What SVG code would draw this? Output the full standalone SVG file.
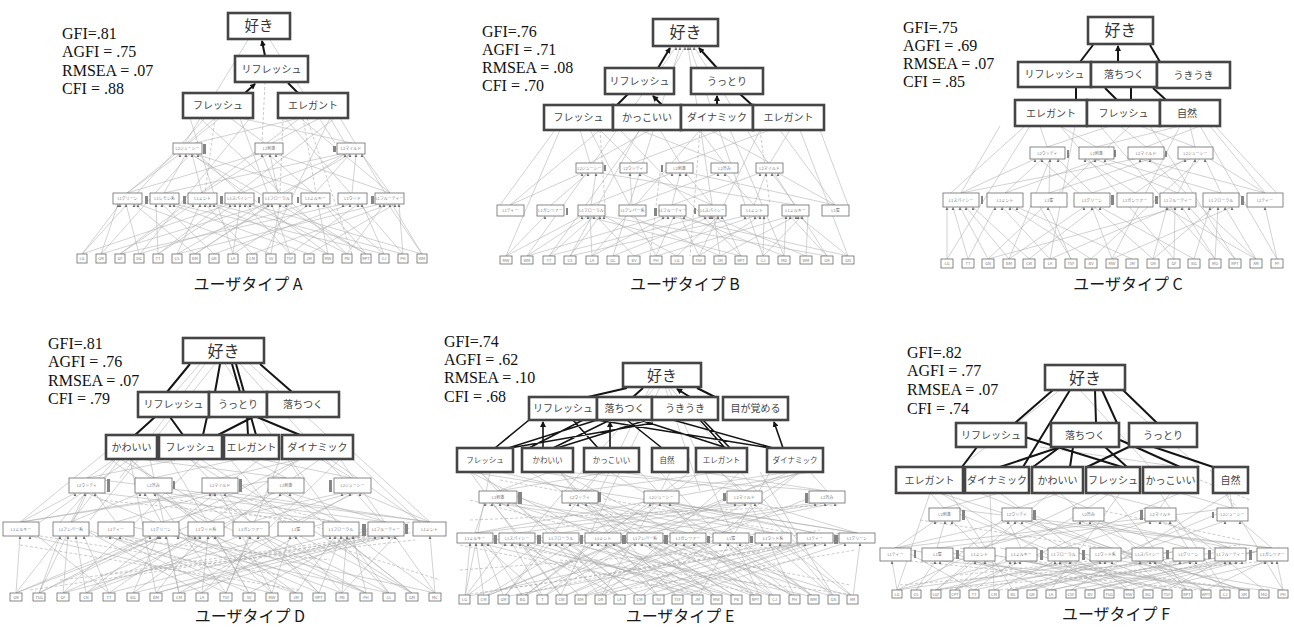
<svg xmlns="http://www.w3.org/2000/svg" width="1294" height="628" viewBox="0 0 1294 628">
<style>
.st{font-family:"Liberation Serif","Times New Roman",serif;font-size:16px;fill:#111}
.bx{fill:#fff;stroke:#454545;stroke-width:2.6}
.bt{font-family:"Noto Sans CJK JP",sans-serif;font-size:10px;fill:#444;text-anchor:middle}
.b7{font-family:"Noto Sans CJK JP",sans-serif;font-size:7.5px;fill:#444;text-anchor:middle}
.kt{font-family:"Noto Sans CJK JP",sans-serif;font-size:16px;fill:#333;text-anchor:middle}
.sb{fill:#fff;stroke:#6a6a6a;stroke-width:0.8}
.s{font-family:"Noto Sans CJK JP",sans-serif;font-size:4px;fill:#777;text-anchor:middle}
.cap{font-family:"Noto Sans CJK JP",sans-serif;font-size:16px;fill:#1a1a1a;text-anchor:middle}
.th{stroke:#151515;stroke-width:2;fill:none}
.tha{stroke:#151515;stroke-width:2;fill:none;marker-end:url(#t)}
.g{stroke:#b4b4b4;stroke-width:0.6;fill:none}
.g2{stroke:#a8a8a8;stroke-width:0.55;fill:none}
.gd{stroke:#aaa;stroke-width:0.6;fill:none;stroke-dasharray:3 2}
.ah{fill:#6e6e6e}
.bar{fill:#858585}
</style>
<defs>
<marker id="t" markerUnits="userSpaceOnUse" markerWidth="6" markerHeight="6" refX="5" refY="3" orient="auto"><path d="M0 0L6 3L0 6z" fill="#151515"/></marker>
</defs>
<rect width="1294" height="628" fill="#fff"/>
<g id="connectors">
<!-- Panel A -->
<path class="g" d="M82 254L120 204M82 254L230 204M101 254L118 204M101 254L268 204M120 254L193 204M120 254L343 204M139 254L126 204M139 254L306 204M158 254L156 204M158 254L235 204M177 254L380 204M177 254L200 204M195 254L134 204M195 254L272 204M214 254L162 204M214 254L350 204M233 254L240 204M233 254L310 204M252 254L205 204M252 254L390 204M271 254L138 204M271 254L280 204M290 254L245 204M290 254L358 204M309 254L170 204M309 254L395 204M328 254L210 204M328 254L318 204M347 254L250 204M347 254L384 204M366 254L286 204M366 254L324 204M384 254L174 204M384 254L362 204M403 254L214 204M403 254L399 204M422 254L250 204M422 254L388 204M127 193L180 154M164 193L186 154M202 193L192 154M240 193L198 154M240 193L345 154M278 193L262 154M315 193L350 154M352 193L356 154M390 193L276 154M164 193L340 154M315 193L196 154M390 193L362 154M202 193L268 154M127 193L258 154M278 193L270 154M187 143L215 118M195 143L300 118M265 143L230 118M272 143L320 118M345 143L330 118M352 143L240 118M82 254L205 118M120 254L300 118M158 254L335 118M233 254L190 118M290 254L240 118M347 254L200 118M403 254L285 118M422 254L340 118M101 254L190 154M177 254L350 154M366 254L190 154M384 254L268 154M195 254L345 154M328 254L192 154M248 40L185 143M270 40L335 143M127 193L220 118M390 193L300 118M265 254L330 118M140 254L250 118"/>
<path class="gd" d="M265 82L262 143M283 118L280 193M303 118L316 193M307 118L352 254M215 118L205 193"/>
<path class="ah" d="M120 204l-1.4 3h2.8zM230 204l-1.4 3h2.8zM118 204l-1.4 3h2.8zM268 204l-1.4 3h2.8zM193 204l-1.4 3h2.8zM343 204l-1.4 3h2.8zM126 204l-1.4 3h2.8zM306 204l-1.4 3h2.8zM156 204l-1.4 3h2.8zM235 204l-1.4 3h2.8zM380 204l-1.4 3h2.8zM200 204l-1.4 3h2.8zM134 204l-1.4 3h2.8zM272 204l-1.4 3h2.8zM162 204l-1.4 3h2.8zM350 204l-1.4 3h2.8zM240 204l-1.4 3h2.8zM310 204l-1.4 3h2.8zM205 204l-1.4 3h2.8zM390 204l-1.4 3h2.8zM138 204l-1.4 3h2.8zM280 204l-1.4 3h2.8zM245 204l-1.4 3h2.8zM358 204l-1.4 3h2.8zM170 204l-1.4 3h2.8zM395 204l-1.4 3h2.8zM210 204l-1.4 3h2.8zM318 204l-1.4 3h2.8zM250 204l-1.4 3h2.8zM384 204l-1.4 3h2.8zM286 204l-1.4 3h2.8zM324 204l-1.4 3h2.8zM174 204l-1.4 3h2.8zM362 204l-1.4 3h2.8zM214 204l-1.4 3h2.8zM399 204l-1.4 3h2.8zM180 154l-1.4 3h2.8zM186 154l-1.4 3h2.8zM192 154l-1.4 3h2.8zM198 154l-1.4 3h2.8zM262 154l-1.4 3h2.8zM270 154l-1.4 3h2.8zM276 154l-1.4 3h2.8zM345 154l-1.4 3h2.8zM350 154l-1.4 3h2.8zM356 154l-1.4 3h2.8zM362 154l-1.4 3h2.8z"/>
<path class="bar" d="M203 144h3v10h-3zM333 146h3v6h-3zM145 196h3v8h-3zM183 196h3v8h-3zM220 196h3v8h-3zM258 197h2v6h-2zM297 197h2v6h-2zM371 196h3v8h-3z"/>
<path class="tha" d="M265 56L262 41"/>
<path class="tha" d="M245 93L255 84"/>
<path class="th" d="M298 93L288 83"/>
<!-- Panel B -->
<path class="g" d="M506 256L545 216M506 256L582 216M527 256L588 216M527 256L663 216M549 256L594 216M549 256L705 216M570 256L600 216M570 256L745 216M592 256L590 216M592 256L668 216M613 256L712 216M634 256L596 216M634 256L755 216M656 256L674 216M656 256L790 216M677 256L604 216M677 256L718 216M699 256L680 216M699 256L760 216M720 256L630 216M720 256L796 216M741 256L722 216M741 256L585 216M763 256L764 216M763 256L802 216M784 256L684 216M784 256L786 216M806 256L808 216M806 256L710 216M827 256L790 216M827 256L604 216M848 256L798 216M848 256L670 216M510 205L582 173M551 205L588 173M591 205L596 173M591 205L672 173M632 205L630 173M632 205L718 173M672 205L680 173M672 205L760 173M712 205L686 173M712 205L640 173M754 205L725 173M754 205L766 173M795 205L772 173M795 205L600 173M835 205L778 173M835 205L690 173M590 163L580 130M590 163L650 130M633 163L600 130M633 163L720 130M680 163L660 130M680 163L770 130M724 163L700 130M724 163L640 130M770 163L790 130M770 163L710 130M506 256L560 130M549 256L640 130M592 256L700 130M656 256L590 130M699 256L760 130M741 256L620 130M784 256L730 130M848 256L800 130M510 205L600 130M835 205L780 130M527 256L676 47M613 256L680 47M763 256L690 47M827 256L694 47M570 256L685 47M720 256L688 47M500 205L555 130M848 205L820 130"/>
<path class="gd" d="M600 130L605 205M700 130L690 256M760 130L770 205M660 173L650 256"/>
<path class="ah" d="M545 216l-1.4 3h2.8zM582 216l-1.4 3h2.8zM588 216l-1.4 3h2.8zM663 216l-1.4 3h2.8zM594 216l-1.4 3h2.8zM705 216l-1.4 3h2.8zM600 216l-1.4 3h2.8zM745 216l-1.4 3h2.8zM668 216l-1.4 3h2.8zM712 216l-1.4 3h2.8zM755 216l-1.4 3h2.8zM674 216l-1.4 3h2.8zM790 216l-1.4 3h2.8zM718 216l-1.4 3h2.8zM760 216l-1.4 3h2.8zM796 216l-1.4 3h2.8zM722 216l-1.4 3h2.8zM764 216l-1.4 3h2.8zM802 216l-1.4 3h2.8zM684 216l-1.4 3h2.8zM786 216l-1.4 3h2.8zM710 216l-1.4 3h2.8zM604 216l-1.4 3h2.8zM798 216l-1.4 3h2.8zM582 173l-1.4 3h2.8zM588 173l-1.4 3h2.8zM596 173l-1.4 3h2.8zM672 173l-1.4 3h2.8zM630 173l-1.4 3h2.8zM718 173l-1.4 3h2.8zM680 173l-1.4 3h2.8zM760 173l-1.4 3h2.8zM686 173l-1.4 3h2.8zM640 173l-1.4 3h2.8zM725 173l-1.4 3h2.8zM766 173l-1.4 3h2.8zM772 173l-1.4 3h2.8zM778 173l-1.4 3h2.8zM676 47l-1.4 3h2.8zM680 47l-1.4 3h2.8zM685 47l-1.4 3h2.8zM688 47l-1.4 3h2.8zM690 47l-1.4 3h2.8zM694 47l-1.4 3h2.8z"/>
<path class="bar" d="M604 165h2v6h-2zM661 165h2v7h-2zM566 208h2v7h-2zM654 208h3v8h-3zM694 208h2v6h-2z"/>
<path class="tha" d="M658 68L670 48"/>
<path class="tha" d="M717 68L699 48"/>
<path class="th" d="M617 105L628 94"/>
<path class="tha" d="M662 105L653 96"/>
<path class="tha" d="M717 105L717 96"/>
<path class="th" d="M752 105L740 94"/>
<!-- Panel C -->
<path class="g" d="M947 259L947 207M968 259L953 207M988 259L960 207M1009 259L966 207M1029 259L973 207M968 259L995 207M1050 259L1002 207M1091 259L1010 207M1132 259L1017 207M1071 259L1048 207M1009 259L1084 207M1112 259L1092 207M1194 259L1100 207M1153 259L1167 207M1174 259L1175 207M1215 259L1182 207M1235 259L1189 207M1050 259L1172 207M1194 259L1210 207M1215 259L1218 207M1256 259L1225 207M1112 259L1232 207M1277 259L1265 207M988 259L1180 207M1153 259L1214 207M1029 259L1096 207M1256 259L1164 207M1071 259L1040 207M961 193L1035 159M1005 193L1042 159M1049 193L1050 159M1092 193L1058 159M1135 193L1085 159M1178 193L1095 159M1221 193L1105 159M1265 193L1140 159M961 193L1135 159M1049 193L1150 159M1135 193L1185 159M1178 193L1195 159M1221 193L1205 159M1092 193L1190 159M1005 193L1100 159M1265 193L1210 159M1047 147L1040 126M1047 147L1110 126M1096 147L1060 126M1096 147L1180 126M1146 147L1120 126M1146 147L1200 126M1195 147L1140 126M1195 147L1190 126M947 259L1030 126M988 259L1130 126M1050 259L1075 126M1112 259L1180 126M1174 259L1060 126M1235 259L1150 126M1277 259L1200 126M1009 259L1050 159M1091 259L1200 159M1153 259L1040 159M1256 259L1150 159M961 193L1000 126M1265 193L1210 126M1215 259L1100 126M943 200L1025 126M1283 200L1215 126"/>
<path class="ah" d="M947 207l-1.4 3h2.8zM953 207l-1.4 3h2.8zM960 207l-1.4 3h2.8zM966 207l-1.4 3h2.8zM973 207l-1.4 3h2.8zM995 207l-1.4 3h2.8zM1002 207l-1.4 3h2.8zM1010 207l-1.4 3h2.8zM1017 207l-1.4 3h2.8zM1048 207l-1.4 3h2.8zM1084 207l-1.4 3h2.8zM1092 207l-1.4 3h2.8zM1100 207l-1.4 3h2.8zM1167 207l-1.4 3h2.8zM1175 207l-1.4 3h2.8zM1182 207l-1.4 3h2.8zM1189 207l-1.4 3h2.8zM1210 207l-1.4 3h2.8zM1218 207l-1.4 3h2.8zM1225 207l-1.4 3h2.8zM1232 207l-1.4 3h2.8zM1265 207l-1.4 3h2.8zM1035 159l-1.4 3h2.8zM1042 159l-1.4 3h2.8zM1050 159l-1.4 3h2.8zM1058 159l-1.4 3h2.8zM1085 159l-1.4 3h2.8zM1095 159l-1.4 3h2.8zM1105 159l-1.4 3h2.8zM1140 159l-1.4 3h2.8zM1150 159l-1.4 3h2.8zM1185 159l-1.4 3h2.8zM1195 159l-1.4 3h2.8zM1205 159l-1.4 3h2.8z"/>
<path class="bar" d="M1067 150h2v8h-2zM1114 150h2v7h-2zM1165 151h2v6h-2zM981 196h2v8h-2zM1111 195h3v10h-3zM1155 196h3v8h-3zM1241 196h3v9h-3z"/>
<path class="th" d="M1080 62L1093 45"/>
<path class="tha" d="M1118 62L1118 46"/>
<path class="th" d="M1160 62L1150 45"/>
<path class="th" d="M1076 100L1076 88M1117 100L1105 88M1131 100L1131 88M1166 100L1153 88"/>
<!-- Panel D -->
<path class="g" d="M16 593L20 536M39 593L60 536M63 593L68 536M86 593L76 536M109 593L84 536M16 593L150 536M39 593L160 536M63 593L195 536M86 593L240 536M109 593L330 536M133 593L158 536M156 593L200 536M179 593L166 536M202 593L208 536M226 593L250 536M249 593L215 536M272 593L290 536M296 593L335 536M319 593L341 536M342 593L347 536M366 593L353 536M389 593L335 536M412 593L340 536M435 593L430 536M133 593L375 536M156 593L382 536M179 593L389 536M202 593L296 536M226 593L110 536M249 593L120 536M272 593L30 536M296 593L178 536M319 593L258 536M342 593L395 536M366 593L212 536M389 593L125 536M412 593L300 536M435 593L355 536M21 522L75 493M71 522L85 493M116 522L95 493M161 522L145 493M206 522L155 493M251 522L210 493M296 522L225 493M341 522L280 493M386 522L290 493M430 522L360 493M71 522L140 493M116 522L215 493M161 522L275 493M206 522L342 493M251 522L350 493M296 522L355 493M341 522L100 493M386 522L165 493M430 522L232 493M21 522L208 493M87 478L115 459M87 478L180 459M153 478L130 459M153 478L240 459M220 478L190 459M220 478L300 459M286 478L250 459M286 478L140 459M352 478L320 459M352 478L260 459M16 593L120 459M63 593L200 459M109 593L300 459M156 593L130 459M202 593L340 459M249 593L170 459M296 593L110 459M342 593L230 459M389 593L290 459M435 593L340 459M39 593L87 493M86 593L286 493M179 593L352 493M226 593L153 493M272 593L220 493M319 593L87 493M366 593L153 493M412 593L286 493M106 452L20 522M353 452L430 522M40 522L130 459M420 522L330 459M205 364L120 478M215 364L90 520M225 364L300 478M240 364L380 520M200 364L60 522M250 364L420 522"/>
<path class="g2" d="M16 593L200 522M63 593L330 522M109 593L20 522M156 593L410 522M202 593L70 522M249 593L380 522M296 593L60 522M342 593L150 522M389 593L240 522M435 593L110 522M39 593L300 459M86 593L260 459M133 593L320 459M179 593L150 459M226 593L280 459M272 593L130 459M319 593L190 459M366 593L120 459M412 593L200 459M21 522L286 478M430 522L87 478"/>
<path class="gd" d="M30 590L400 536M60 580L415 540M100 575L370 536M150 570L430 530M200 568L410 528M90 536L330 560M40 536L280 575M180 500L360 536M250 500L400 540M100 500L300 520M20 545L300 590M330 545L440 580"/>
<path class="ah" d="M20 536l-1.4 3h2.8zM60 536l-1.4 3h2.8zM68 536l-1.4 3h2.8zM76 536l-1.4 3h2.8zM84 536l-1.4 3h2.8zM150 536l-1.4 3h2.8zM160 536l-1.4 3h2.8zM195 536l-1.4 3h2.8zM240 536l-1.4 3h2.8zM330 536l-1.4 3h2.8zM158 536l-1.4 3h2.8zM200 536l-1.4 3h2.8zM166 536l-1.4 3h2.8zM208 536l-1.4 3h2.8zM250 536l-1.4 3h2.8zM215 536l-1.4 3h2.8zM290 536l-1.4 3h2.8zM335 536l-1.4 3h2.8zM341 536l-1.4 3h2.8zM347 536l-1.4 3h2.8zM353 536l-1.4 3h2.8zM430 536l-1.4 3h2.8zM375 536l-1.4 3h2.8zM382 536l-1.4 3h2.8zM389 536l-1.4 3h2.8zM296 536l-1.4 3h2.8zM110 536l-1.4 3h2.8zM120 536l-1.4 3h2.8zM30 536l-1.4 3h2.8zM178 536l-1.4 3h2.8zM258 536l-1.4 3h2.8zM395 536l-1.4 3h2.8zM75 493l-1.4 3h2.8zM85 493l-1.4 3h2.8zM95 493l-1.4 3h2.8zM145 493l-1.4 3h2.8zM155 493l-1.4 3h2.8zM210 493l-1.4 3h2.8zM225 493l-1.4 3h2.8zM280 493l-1.4 3h2.8zM290 493l-1.4 3h2.8zM360 493l-1.4 3h2.8zM140 493l-1.4 3h2.8zM215 493l-1.4 3h2.8zM342 493l-1.4 3h2.8zM350 493l-1.4 3h2.8z"/>
<path class="bar" d="M107 479h3v13h-3zM173 481h2v8h-2zM239 479h3v13h-3zM329 480h3v12h-3zM362 524h4v12h-4zM405 524h3v10h-3z"/>
<path class="th" d="M190 364L167 392M220 364L215 392M232 364L240 392M236 364L244 392M260 364L292 392M155 417L135 435M170 417L183 435M207 417L203 435M253 417L218 435M247 417L248 435M251 417L256 435M257 417L300 435"/>
<!-- Panel E -->
<path class="g" d="M465 597L470 543M484 597L476 543M504 597L482 543M523 597L488 543M465 597L505 543M543 597L512 543M562 597L520 543M581 597L528 543M504 597L550 543M601 597L556 543M620 597L562 543M640 597L570 543M523 597L592 543M659 597L598 543M678 597L606 543M698 597L614 543M543 597L635 543M717 597L642 543M737 597L650 543M562 597L676 543M756 597L684 543M775 597L694 543M581 597L720 543M795 597L728 543M814 597L740 543M601 597L762 543M834 597L770 543M853 597L780 543M620 597L805 543M640 597L815 543M659 597L825 543M678 597L845 543M853 597L860 543M698 597L480 543M717 597L530 543M737 597L575 543M756 597L610 543M775 597L655 543M795 597L700 543M814 597L745 543M834 597L788 543M484 597L620 543M465 597L540 543M475 533L485 503M517 533L492 503M561 533L500 503M603 533L508 503M645 533L570 503M688 533L578 503M731 533L586 503M773 533L650 503M815 533L660 503M857 533L670 503M475 533L735 503M517 533L745 503M561 533L755 503M603 533L815 503M645 533L825 503M688 533L835 503M731 533L512 503M773 533L592 503M815 533L676 503M857 533L758 503M603 533L655 503M688 533L495 503M498 491L480 472M498 491L550 472M498 491L610 472M580 491L500 472M580 491L600 472M580 491L720 472M661 491L540 472M661 491L670 472M661 491L790 472M744 491L620 472M744 491L720 472M744 491L800 472M827 491L700 472M827 491L810 472M827 491L560 472M465 597L490 472M504 597L600 472M543 597L700 472M581 597L800 472M620 597L480 472M659 597L560 472M698 597L770 472M737 597L530 472M775 597L660 472M814 597L610 472M853 597L720 472M484 597L661 491M562 597L827 491M640 597L498 491M717 597L580 491M795 597L744 491M834 597L498 491M523 597L744 491M601 597L661 491M756 597L580 491M600 491L650 387M700 491L665 387M520 543L655 387M800 543L670 387M560 597L660 387M760 597L668 387"/>
<path class="g2" d="M465 597L760 533M504 597L850 533M543 597L470 533M581 597L840 533M620 597L500 533M659 597L830 533M698 597L520 533M737 597L470 533M775 597L560 533M814 597L520 533M853 597L640 533M484 597L790 472M523 597L690 472M562 597L470 472M601 597L740 472M640 597L800 472M678 597L560 472M717 597L470 472M756 597L640 472M795 597L560 472M834 597L760 472M475 533L810 472M857 533L470 472"/>
<path class="gd" d="M470 594L840 540M500 590L860 535M460 570L800 545M520 594L820 530M560 560L850 594M480 540L760 594M600 594L855 550M460 545L700 594M640 545L850 585M470 520L840 505M500 480L830 540M470 500L700 560"/>
<path class="ah" d="M470 543l-1.4 3h2.8zM476 543l-1.4 3h2.8zM482 543l-1.4 3h2.8zM488 543l-1.4 3h2.8zM505 543l-1.4 3h2.8zM512 543l-1.4 3h2.8zM520 543l-1.4 3h2.8zM528 543l-1.4 3h2.8zM550 543l-1.4 3h2.8zM556 543l-1.4 3h2.8zM562 543l-1.4 3h2.8zM570 543l-1.4 3h2.8zM592 543l-1.4 3h2.8zM598 543l-1.4 3h2.8zM606 543l-1.4 3h2.8zM614 543l-1.4 3h2.8zM635 543l-1.4 3h2.8zM642 543l-1.4 3h2.8zM650 543l-1.4 3h2.8zM676 543l-1.4 3h2.8zM684 543l-1.4 3h2.8zM694 543l-1.4 3h2.8zM720 543l-1.4 3h2.8zM728 543l-1.4 3h2.8zM740 543l-1.4 3h2.8zM762 543l-1.4 3h2.8zM770 543l-1.4 3h2.8zM780 543l-1.4 3h2.8zM805 543l-1.4 3h2.8zM815 543l-1.4 3h2.8zM825 543l-1.4 3h2.8zM845 543l-1.4 3h2.8zM860 543l-1.4 3h2.8zM485 503l-1.4 3h2.8zM492 503l-1.4 3h2.8zM500 503l-1.4 3h2.8zM508 503l-1.4 3h2.8zM570 503l-1.4 3h2.8zM578 503l-1.4 3h2.8zM586 503l-1.4 3h2.8zM650 503l-1.4 3h2.8zM660 503l-1.4 3h2.8zM670 503l-1.4 3h2.8zM735 503l-1.4 3h2.8zM745 503l-1.4 3h2.8zM755 503l-1.4 3h2.8zM815 503l-1.4 3h2.8zM825 503l-1.4 3h2.8zM835 503l-1.4 3h2.8z"/>
<path class="bar" d="M518 492h4v12h-4zM598 492h3v10h-3zM723 493h3v8h-3zM805 493h3v10h-3zM494 535h3v9h-3zM537 535h4v9h-4zM580 535h3v9h-3zM622 535h4v9h-4zM664 535h4v9h-4zM707 536h3v7h-3zM750 536h3v7h-3zM834 535h4v9h-4z"/>
<path class="th" d="M588 397L627 388M633 397L643 388M715 397L697 388"/>
<path class="tha" d="M690 397L677 389"/>
<path class="th" style="stroke-width:1.6" d="M495 448L529 420M508 448L597 420M529 448L583 420M553 448L610 420M573 420L598 448M627 420L662 448M640 420L727 448M700 420L725 448M703 420L730 448M673 420L773 448M653 423L510 448M647 420L557 448M597 420L770 448"/>
<path class="tha" style="stroke-width:1.6" d="M543 448L543 422"/>
<path class="tha" style="stroke-width:1.6" d="M610 448L610 422"/>
<path class="tha" style="stroke-width:1.6" d="M783 448L774 422"/>
<!-- Panel F -->
<path class="g" d="M897 590L892 561M916 590L935 561M936 590L975 561M955 590L985 561M974 590L1015 561M994 590L1055 561M1013 590L1100 561M1032 590L1140 561M1051 590L1180 561M1071 590L1225 561M1090 590L1230 561M1109 590L1236 561M1129 590L1242 561M1148 590L1272 561M1167 590L1060 561M1187 590L1105 561M1206 590L1150 561M1225 590L1190 561M1244 590L1020 561M1264 590L940 561M1283 590L1277 561M897 590L1010 561M936 590L1070 561M974 590L1112 561M1013 590L1155 561M1051 590L1196 561M1090 590L985 561M1129 590L1030 561M1167 590L1220 561M1206 590L1265 561M895 548L935 521M937 548L945 521M979 548L952 521M1021 548L1008 521M1063 548L1015 521M1105 548L1022 521M1147 548L1080 521M1188 548L1090 521M1230 548L1160 521M1272 548L1240 521M895 548L1010 521M979 548L1085 521M1063 548L1150 521M1147 548L1225 521M1188 548L1170 521M1230 548L1098 521M1272 548L1025 521M937 548L1155 521M944 508L930 493M944 508L1000 493M1017 508L980 493M1017 508L1060 493M1088 508L1050 493M1088 508L1110 493M1160 508L1100 493M1160 508L1170 493M1232 508L1180 493M1232 508L1230 493M897 590L930 493M936 590L1050 493M994 590L990 493M1051 590L1120 493M1109 590L940 493M1167 590L1060 493M1225 590L1160 493M1283 590L1225 493M955 590L1088 508M1032 590L1232 508M1148 590L944 508M1206 590L1017 508M1264 590L1160 508M916 590L1017 508M1187 590L1088 508M1060 390L960 467M1110 390L1200 467M1080 390L1150 467M1040 447L1180 467"/>
<path class="g2" d="M897 590L1200 548M936 590L1250 548M974 590L900 548M1013 590L1280 548M1051 590L940 548M1090 590L1270 548M1129 590L900 548M1167 590L960 548M1206 590L1000 548M1244 590L1110 548M1283 590L1050 548M897 590L1100 493M955 590L1180 493M1013 590L950 493M1071 590L1230 493M1129 590L1000 493M1187 590L1110 493M1244 590L940 493M895 548L1232 508M1272 548L944 508"/>
<path class="gd" d="M900 585L1250 555M930 590L1280 560M960 575L1240 545M1000 590L1270 550M900 560L1200 590M950 550L1250 590M1100 510L1240 540M920 520L1180 560M1210 470L1245 520M1200 480L1250 500"/>
<path class="ah" d="M892 561l-1.4 3h2.8zM935 561l-1.4 3h2.8zM975 561l-1.4 3h2.8zM985 561l-1.4 3h2.8zM1015 561l-1.4 3h2.8zM1055 561l-1.4 3h2.8zM1100 561l-1.4 3h2.8zM1140 561l-1.4 3h2.8zM1180 561l-1.4 3h2.8zM1225 561l-1.4 3h2.8zM1230 561l-1.4 3h2.8zM1236 561l-1.4 3h2.8zM1242 561l-1.4 3h2.8zM1272 561l-1.4 3h2.8zM1060 561l-1.4 3h2.8zM1105 561l-1.4 3h2.8zM1150 561l-1.4 3h2.8zM1190 561l-1.4 3h2.8zM1020 561l-1.4 3h2.8zM940 561l-1.4 3h2.8zM1277 561l-1.4 3h2.8zM1010 561l-1.4 3h2.8zM1070 561l-1.4 3h2.8zM1112 561l-1.4 3h2.8zM1155 561l-1.4 3h2.8zM1196 561l-1.4 3h2.8zM1265 561l-1.4 3h2.8zM935 521l-1.4 3h2.8zM945 521l-1.4 3h2.8zM952 521l-1.4 3h2.8zM1008 521l-1.4 3h2.8zM1015 521l-1.4 3h2.8zM1022 521l-1.4 3h2.8zM1080 521l-1.4 3h2.8zM1090 521l-1.4 3h2.8zM1160 521l-1.4 3h2.8zM1240 521l-1.4 3h2.8zM1150 521l-1.4 3h2.8zM1225 521l-1.4 3h2.8zM1170 521l-1.4 3h2.8z"/>
<path class="bar" d="M962 510h3v10h-3zM1033 510h3v10h-3zM1140 510h3v10h-3zM1212 512h2v6h-2zM914 550h2v8h-2zM956 550h3v9h-3zM1040 550h3v10h-3zM1082 550h3v10h-3zM1166 550h3v9h-3zM1208 550h3v9h-3zM1249 550h3v10h-3z"/>
<path class="th" d="M1053 390L1015 423M1095 390L1096 423M1102 390L1117 423M1123 390L1157 423M1070 390L1023 467M977 447L962 467M1025 437L1122 467M1060 447L1033 467M1073 447L1070 467M1105 447L1127 467M1137 443L1087 467M1133 440L1213 467M1120 440L1180 467M1060 447L1000 467"/>
</g>
<g id="stats">
<text class="st" x="62" y="39">GFI=.81</text><text class="st" x="62" y="57">AGFI = .75</text><text class="st" x="62" y="76">RMSEA = .07</text><text class="st" x="62" y="94">CFI = .88</text>
<text class="st" x="482" y="37">GFI=.76</text><text class="st" x="482" y="55">AGFI = .71</text><text class="st" x="482" y="73">RMSEA = .08</text><text class="st" x="482" y="91">CFI = .70</text>
<text class="st" x="903" y="33">GFI=.75</text><text class="st" x="903" y="51">AGFI = .69</text><text class="st" x="903" y="69">RMSEA = .07</text><text class="st" x="903" y="87">CFI = .85</text>
<text class="st" x="48" y="349">GFI=.81</text><text class="st" x="48" y="367">AGFI = .76</text><text class="st" x="48" y="386">RMSEA = .07</text><text class="st" x="48" y="404">CFI = .79</text>
<text class="st" x="444" y="347">GFI=.74</text><text class="st" x="444" y="365">AGFI = .62</text><text class="st" x="444" y="383">RMSEA = .10</text><text class="st" x="444" y="402">CFI = .68</text>
<text class="st" x="907" y="358">GFI=.82</text><text class="st" x="907" y="376">AGFI = .77</text><text class="st" x="907" y="395">RMSEA = .07</text><text class="st" x="907" y="414">CFI = .74</text>
</g>
<g id="captions">
<text class="cap" x="248" y="290">ユーザタイプ A</text>
<text class="cap" x="685" y="290">ユーザタイプ B</text>
<text class="cap" x="1128" y="290">ユーザタイプ C</text>
<text class="cap" x="250" y="622">ユーザタイプ D</text>
<text class="cap" x="680" y="622">ユーザタイプ E</text>
<text class="cap" x="1116" y="620">ユーザタイプ F</text>
</g>
<!-- Panel A nodes -->
<g id="A-suki"><rect class="bx" x="228" y="13" width="62" height="26"/><text class="kt" style="font-size:14.5px" x="259" y="31">好き</text></g>
<g id="A-refresh"><rect class="bx" x="235" y="56" width="73" height="26"/><text class="bt" x="271.5" y="72.5">リフレッシュ</text></g>
<g id="A-fresh"><rect class="bx" x="183" y="93" width="70" height="25"/><text class="bt" x="218" y="109">フレッシュ</text></g>
<g id="A-elegant"><rect class="bx" x="278" y="93" width="70" height="25"/><text class="bt" x="313" y="109">エレガント</text></g>
<g id="A-m0"><rect class="sb" x="173" y="143" width="29" height="11"/><text class="s" x="187.5" y="150">L2ジューシー</text></g>
<g id="A-m1"><rect class="sb" x="255" y="143" width="28" height="11"/><text class="s" x="269" y="150">L2刺激</text></g>
<g id="A-m2"><rect class="sb" x="337" y="143" width="28" height="11"/><text class="s" x="351" y="150">L2マイルド</text></g>
<g id="A-l0"><rect class="sb" x="113" y="193" width="29" height="11"/><text class="s" x="127.5" y="200">L1グリーン</text></g>
<g id="A-l1"><rect class="sb" x="150" y="193" width="29" height="11"/><text class="s" x="164.5" y="200">L1レモン系</text></g>
<g id="A-l2"><rect class="sb" x="188" y="193" width="29" height="11"/><text class="s" x="202.5" y="200">L1ミント</text></g>
<g id="A-l3"><rect class="sb" x="225" y="193" width="29" height="11"/><text class="s" x="239.5" y="200">L1スパイシー</text></g>
<g id="A-l4"><rect class="sb" x="263" y="193" width="29" height="11"/><text class="s" x="277.5" y="200">L1フローラル</text></g>
<g id="A-l5"><rect class="sb" x="301" y="193" width="29" height="11"/><text class="s" x="315.5" y="200">L1ミルキー</text></g>
<g id="A-l6"><rect class="sb" x="338" y="193" width="29" height="11"/><text class="s" x="352.5" y="200">L1ウッド</text></g>
<g id="A-l7"><rect class="sb" x="375" y="193" width="29" height="11"/><text class="s" x="389.5" y="200">L1フルーティー</text></g>
<g id="A-b0"><rect class="sb" x="77" y="254" width="10" height="9"/><text class="s" x="82" y="260">LG</text></g>
<g id="A-b1"><rect class="sb" x="96" y="254" width="10" height="9"/><text class="s" x="101" y="260">OR</text></g>
<g id="A-b2"><rect class="sb" x="115" y="254" width="10" height="9"/><text class="s" x="120" y="260">GF</text></g>
<g id="A-b3"><rect class="sb" x="134" y="254" width="10" height="9"/><text class="s" x="139" y="260">DG</text></g>
<g id="A-b4"><rect class="sb" x="153" y="254" width="10" height="9"/><text class="s" x="158" y="260">TT</text></g>
<g id="A-b5"><rect class="sb" x="172" y="254" width="10" height="9"/><text class="s" x="177" y="260">CS</text></g>
<g id="A-b6"><rect class="sb" x="190" y="254" width="10" height="9"/><text class="s" x="195" y="260">BM</text></g>
<g id="A-b7"><rect class="sb" x="209" y="254" width="10" height="9"/><text class="s" x="214" y="260">GR</text></g>
<g id="A-b8"><rect class="sb" x="228" y="254" width="10" height="9"/><text class="s" x="233" y="260">LA</text></g>
<g id="A-b9"><rect class="sb" x="247" y="254" width="10" height="9"/><text class="s" x="252" y="260">CM</text></g>
<g id="A-b10"><rect class="sb" x="266" y="254" width="10" height="9"/><text class="s" x="271" y="260">SV</text></g>
<g id="A-b11"><rect class="sb" x="285" y="254" width="10" height="9"/><text class="s" x="290" y="260">TSF</text></g>
<g id="A-b12"><rect class="sb" x="304" y="254" width="10" height="9"/><text class="s" x="309" y="260">JM</text></g>
<g id="A-b13"><rect class="sb" x="323" y="254" width="10" height="9"/><text class="s" x="328" y="260">MW</text></g>
<g id="A-b14"><rect class="sb" x="342" y="254" width="10" height="9"/><text class="s" x="347" y="260">PB</text></g>
<g id="A-b15"><rect class="sb" x="361" y="254" width="10" height="9"/><text class="s" x="366" y="260">RPT</text></g>
<g id="A-b16"><rect class="sb" x="379" y="254" width="10" height="9"/><text class="s" x="384" y="260">CJ</text></g>
<g id="A-b17"><rect class="sb" x="398" y="254" width="10" height="9"/><text class="s" x="403" y="260">PH</text></g>
<g id="A-b18"><rect class="sb" x="417" y="254" width="10" height="9"/><text class="s" x="422" y="260">WM</text></g>
<!-- Panel B nodes -->
<g id="B-suki"><rect class="bx" x="653" y="19" width="65" height="27"/><text class="kt" x="685.5" y="38">好き</text></g>
<g id="B-refresh"><rect class="bx" x="605" y="68" width="69" height="26"/><text class="bt" x="639.5" y="84.5">リフレッシュ</text></g>
<g id="B-uttori"><rect class="bx" x="691" y="68" width="72" height="26"/><text class="bt" x="727" y="84.5">うっとり</text></g>
<g id="B-fresh"><rect class="bx" x="544" y="105" width="69" height="25"/><text class="bt" x="578.5" y="121">フレッシュ</text></g>
<g id="B-cool"><rect class="bx" x="613" y="105" width="68" height="25"/><text class="bt" x="647" y="121">かっこいい</text></g>
<g id="B-dynamic"><rect class="bx" x="681" y="105" width="72" height="25"/><text class="bt" x="717" y="121">ダイナミック</text></g>
<g id="B-elegant"><rect class="bx" x="753" y="105" width="71" height="25"/><text class="bt" x="788.5" y="121">エレガント</text></g>
<g id="B-m0"><rect class="sb" x="576" y="163" width="27" height="10"/><text class="s" x="589.5" y="169.5">L2ジューシー</text></g>
<g id="B-m1"><rect class="sb" x="620" y="163" width="27" height="10"/><text class="s" x="633.5" y="169.5">L2ウッディ</text></g>
<g id="B-m2"><rect class="sb" x="666" y="163" width="27" height="10"/><text class="s" x="679.5" y="169.5">L2刺激</text></g>
<g id="B-m3"><rect class="sb" x="711" y="163" width="27" height="10"/><text class="s" x="724.5" y="169.5">L2渋み</text></g>
<g id="B-m4"><rect class="sb" x="756" y="163" width="27" height="10"/><text class="s" x="769.5" y="169.5">L2マイルド</text></g>
<g id="B-l0"><rect class="sb" x="497" y="205" width="27" height="11"/><text class="s" x="510.5" y="212">L1ティー</text></g>
<g id="B-l1"><rect class="sb" x="537" y="205" width="27" height="11"/><text class="s" x="550.5" y="212">L1ガンツァー</text></g>
<g id="B-l2"><rect class="sb" x="578" y="205" width="27" height="11"/><text class="s" x="591.5" y="212">L1フローラル</text></g>
<g id="B-l3"><rect class="sb" x="619" y="205" width="27" height="11"/><text class="s" x="632.5" y="212">L1アンバー系</text></g>
<g id="B-l4"><rect class="sb" x="659" y="205" width="27" height="11"/><text class="s" x="672.5" y="212">L1フルーティー</text></g>
<g id="B-l5"><rect class="sb" x="699" y="205" width="27" height="11"/><text class="s" x="712.5" y="212">L1スパイシー</text></g>
<g id="B-l6"><rect class="sb" x="741" y="205" width="27" height="11"/><text class="s" x="754.5" y="212">L1ミント</text></g>
<g id="B-l7"><rect class="sb" x="782" y="205" width="27" height="11"/><text class="s" x="795.5" y="212">L1ミルキー</text></g>
<g id="B-l8"><rect class="sb" x="822" y="205" width="27" height="11"/><text class="s" x="835.5" y="212">L1蜜</text></g>
<g id="B-b0"><rect class="sb" x="500" y="256" width="12" height="8"/><text class="s" x="506" y="261.5">MW</text></g>
<g id="B-b1"><rect class="sb" x="521" y="256" width="12" height="8"/><text class="s" x="527" y="261.5">WM</text></g>
<g id="B-b2"><rect class="sb" x="543" y="256" width="12" height="8"/><text class="s" x="549" y="261.5">TT</text></g>
<g id="B-b3"><rect class="sb" x="564" y="256" width="12" height="8"/><text class="s" x="570" y="261.5">CS</text></g>
<g id="B-b4"><rect class="sb" x="586" y="256" width="12" height="8"/><text class="s" x="592" y="261.5">LA</text></g>
<g id="B-b5"><rect class="sb" x="607" y="256" width="12" height="8"/><text class="s" x="613" y="261.5">GC</text></g>
<g id="B-b6"><rect class="sb" x="628" y="256" width="12" height="8"/><text class="s" x="634" y="261.5">BV</text></g>
<g id="B-b7"><rect class="sb" x="650" y="256" width="12" height="8"/><text class="s" x="656" y="261.5">PH</text></g>
<g id="B-b8"><rect class="sb" x="671" y="256" width="12" height="8"/><text class="s" x="677" y="261.5">LG</text></g>
<g id="B-b9"><rect class="sb" x="693" y="256" width="12" height="8"/><text class="s" x="699" y="261.5">TSF</text></g>
<g id="B-b10"><rect class="sb" x="714" y="256" width="12" height="8"/><text class="s" x="720" y="261.5">JM</text></g>
<g id="B-b11"><rect class="sb" x="735" y="256" width="12" height="8"/><text class="s" x="741" y="261.5">RPT</text></g>
<g id="B-b12"><rect class="sb" x="757" y="256" width="12" height="8"/><text class="s" x="763" y="261.5">CJ</text></g>
<g id="B-b13"><rect class="sb" x="778" y="256" width="12" height="8"/><text class="s" x="784" y="261.5">MD</text></g>
<g id="B-b14"><rect class="sb" x="800" y="256" width="12" height="8"/><text class="s" x="806" y="261.5">WM</text></g>
<g id="B-b15"><rect class="sb" x="821" y="256" width="12" height="8"/><text class="s" x="827" y="261.5">OR</text></g>
<g id="B-b16"><rect class="sb" x="842" y="256" width="12" height="8"/><text class="s" x="848" y="261.5">GN</text></g>
<!-- Panel C nodes -->
<g id="C-suki"><rect class="bx" x="1088" y="17" width="65" height="27"/><text class="kt" x="1120.5" y="36">好き</text></g>
<g id="C-refresh"><rect class="bx" x="1018" y="62" width="73" height="25"/><text class="bt" x="1054.5" y="78">リフレッシュ</text></g>
<g id="C-calm"><rect class="bx" x="1091" y="62" width="66" height="25"/><text class="bt" x="1124" y="78">落ちつく</text></g>
<g id="C-ukiuki"><rect class="bx" x="1157" y="62" width="73" height="26"/><text class="bt" x="1193.5" y="78.5">うきうき</text></g>
<g id="C-elegant"><rect class="bx" x="1015" y="100" width="72" height="26"/><text class="bt" x="1051" y="116.5">エレガント</text></g>
<g id="C-fresh"><rect class="bx" x="1087" y="100" width="73" height="26"/><text class="bt" x="1123.5" y="116.5">フレッシュ</text></g>
<g id="C-natural"><rect class="bx" x="1160" y="100" width="60" height="26"/><text class="bt" x="1187" y="116.5">自然</text></g>
<g id="C-m0"><rect class="sb" x="1030" y="147" width="35" height="12"/><text class="s" x="1047.5" y="154.5">L2ウッディ</text></g>
<g id="C-m1"><rect class="sb" x="1079" y="147" width="35" height="12"/><text class="s" x="1096.5" y="154.5">L2刺激</text></g>
<g id="C-m2"><rect class="sb" x="1128" y="147" width="36" height="12"/><text class="s" x="1146" y="154.5">L2マイルド</text></g>
<g id="C-m3"><rect class="sb" x="1178" y="147" width="35" height="12"/><text class="s" x="1195.5" y="154.5">L2ジューシー</text></g>
<g id="C-l0"><rect class="sb" x="943" y="193" width="36" height="14"/><text class="s" x="961" y="201.5">L1スパイシー</text></g>
<g id="C-l1"><rect class="sb" x="987" y="193" width="36" height="14"/><text class="s" x="1005" y="201.5">L1ミント</text></g>
<g id="C-l2"><rect class="sb" x="1031" y="193" width="36" height="14"/><text class="s" x="1049" y="201.5">L1蜜</text></g>
<g id="C-l3"><rect class="sb" x="1074" y="193" width="36" height="14"/><text class="s" x="1092" y="201.5">L1グリーン</text></g>
<g id="C-l4"><rect class="sb" x="1117" y="193" width="36" height="14"/><text class="s" x="1135" y="201.5">L1ガンツァー</text></g>
<g id="C-l5"><rect class="sb" x="1160" y="193" width="36" height="14"/><text class="s" x="1178" y="201.5">L1フルーティー</text></g>
<g id="C-l6"><rect class="sb" x="1203" y="193" width="36" height="14"/><text class="s" x="1221" y="201.5">L1フローラル</text></g>
<g id="C-l7"><rect class="sb" x="1247" y="193" width="36" height="14"/><text class="s" x="1265" y="201.5">L1ティー</text></g>
<g id="C-b0"><rect class="sb" x="941" y="259" width="12" height="9"/><text class="s" x="947" y="265">LG</text></g>
<g id="C-b1"><rect class="sb" x="962" y="259" width="12" height="9"/><text class="s" x="968" y="265">TT</text></g>
<g id="C-b2"><rect class="sb" x="982" y="259" width="12" height="9"/><text class="s" x="988" y="265">GN</text></g>
<g id="C-b3"><rect class="sb" x="1003" y="259" width="12" height="9"/><text class="s" x="1009" y="265">BM</text></g>
<g id="C-b4"><rect class="sb" x="1023" y="259" width="12" height="9"/><text class="s" x="1029" y="265">CW</text></g>
<g id="C-b5"><rect class="sb" x="1044" y="259" width="12" height="9"/><text class="s" x="1050" y="265">LA</text></g>
<g id="C-b6"><rect class="sb" x="1065" y="259" width="12" height="9"/><text class="s" x="1071" y="265">TSF</text></g>
<g id="C-b7"><rect class="sb" x="1085" y="259" width="12" height="9"/><text class="s" x="1091" y="265">BV</text></g>
<g id="C-b8"><rect class="sb" x="1106" y="259" width="12" height="9"/><text class="s" x="1112" y="265">MW</text></g>
<g id="C-b9"><rect class="sb" x="1126" y="259" width="12" height="9"/><text class="s" x="1132" y="265">JM</text></g>
<g id="C-b10"><rect class="sb" x="1147" y="259" width="12" height="9"/><text class="s" x="1153" y="265">OR</text></g>
<g id="C-b11"><rect class="sb" x="1168" y="259" width="12" height="9"/><text class="s" x="1174" y="265">GF</text></g>
<g id="C-b12"><rect class="sb" x="1188" y="259" width="12" height="9"/><text class="s" x="1194" y="265">BG</text></g>
<g id="C-b13"><rect class="sb" x="1209" y="259" width="12" height="9"/><text class="s" x="1215" y="265">MO</text></g>
<g id="C-b14"><rect class="sb" x="1229" y="259" width="12" height="9"/><text class="s" x="1235" y="265">RPT</text></g>
<g id="C-b15"><rect class="sb" x="1250" y="259" width="12" height="9"/><text class="s" x="1256" y="265">AM</text></g>
<g id="C-b16"><rect class="sb" x="1271" y="259" width="12" height="9"/><text class="s" x="1277" y="265">PF</text></g>
<!-- Panel D nodes -->
<g id="D-suki"><rect class="bx" x="183" y="338" width="81" height="25"/><text class="kt" x="223.5" y="356.5">好き</text></g>
<g id="D-refresh"><rect class="bx" x="138" y="392" width="71" height="25"/><text class="bt" x="173.5" y="408">リフレッシュ</text></g>
<g id="D-uttori"><rect class="bx" x="209" y="392" width="58" height="25"/><text class="bt" x="238" y="408">うっとり</text></g>
<g id="D-calm"><rect class="bx" x="267" y="392" width="72" height="25"/><text class="bt" x="303" y="408">落ちつく</text></g>
<g id="D-cute"><rect class="bx" x="106" y="435" width="51" height="24"/><text class="bt" x="131.5" y="450.5">かわいい</text></g>
<g id="D-fresh"><rect class="bx" x="159" y="435" width="63" height="24"/><text class="bt" x="190.5" y="450.5">フレッシュ</text></g>
<g id="D-elegant"><rect class="bx" x="224" y="435" width="55" height="24"/><text class="bt" x="251.5" y="450.5">エレガント</text></g>
<g id="D-dynamic"><rect class="bx" x="282" y="435" width="71" height="24"/><text class="bt" x="317.5" y="450.5">ダイナミック</text></g>
<g id="D-m0"><rect class="sb" x="69" y="478" width="36" height="15"/><text class="s" x="87" y="487">L2ウッディ</text></g>
<g id="D-m1"><rect class="sb" x="135" y="478" width="37" height="15"/><text class="s" x="153.5" y="487">L2渋み</text></g>
<g id="D-m2"><rect class="sb" x="202" y="478" width="36" height="15"/><text class="s" x="220" y="487">L2マイルド</text></g>
<g id="D-m3"><rect class="sb" x="268" y="478" width="36" height="15"/><text class="s" x="286" y="487">L2刺激</text></g>
<g id="D-m4"><rect class="sb" x="334" y="478" width="37" height="15"/><text class="s" x="352.5" y="487">L2ジューシー</text></g>
<g id="D-l0"><rect class="sb" x="3" y="522" width="36" height="14"/><text class="s" x="21" y="530.5">L1ミルキー</text></g>
<g id="D-l1"><rect class="sb" x="53" y="522" width="36" height="14"/><text class="s" x="71" y="530.5">L1アンバー系</text></g>
<g id="D-l2"><rect class="sb" x="98" y="522" width="36" height="14"/><text class="s" x="116" y="530.5">L1ティー</text></g>
<g id="D-l3"><rect class="sb" x="143" y="522" width="36" height="14"/><text class="s" x="161" y="530.5">L1グリーン</text></g>
<g id="D-l4"><rect class="sb" x="188" y="522" width="36" height="14"/><text class="s" x="206" y="530.5">L1ウッド系</text></g>
<g id="D-l5"><rect class="sb" x="233" y="522" width="36" height="14"/><text class="s" x="251" y="530.5">L1ガンツァー</text></g>
<g id="D-l6"><rect class="sb" x="278" y="522" width="36" height="14"/><text class="s" x="296" y="530.5">L1蜜</text></g>
<g id="D-l7"><rect class="sb" x="323" y="522" width="36" height="14"/><text class="s" x="341" y="530.5">L1フローラル</text></g>
<g id="D-l8"><rect class="sb" x="368" y="522" width="36" height="14"/><text class="s" x="386" y="530.5">L1フルーティー</text></g>
<g id="D-l9"><rect class="sb" x="413" y="522" width="33" height="14"/><text class="s" x="429.5" y="530.5">L1ミント</text></g>
<g id="D-b0"><rect class="sb" x="10" y="593" width="12" height="8"/><text class="s" x="16" y="598.5">OR</text></g>
<g id="D-b1"><rect class="sb" x="33" y="593" width="12" height="8"/><text class="s" x="39" y="598.5">TSG</text></g>
<g id="D-b2"><rect class="sb" x="57" y="593" width="12" height="8"/><text class="s" x="63" y="598.5">GF</text></g>
<g id="D-b3"><rect class="sb" x="80" y="593" width="12" height="8"/><text class="s" x="86" y="598.5">CN</text></g>
<g id="D-b4"><rect class="sb" x="103" y="593" width="12" height="8"/><text class="s" x="109" y="598.5">TT</text></g>
<g id="D-b5"><rect class="sb" x="127" y="593" width="12" height="8"/><text class="s" x="133" y="598.5">BG</text></g>
<g id="D-b6"><rect class="sb" x="150" y="593" width="12" height="8"/><text class="s" x="156" y="598.5">BM</text></g>
<g id="D-b7"><rect class="sb" x="173" y="593" width="12" height="8"/><text class="s" x="179" y="598.5">CM</text></g>
<g id="D-b8"><rect class="sb" x="196" y="593" width="12" height="8"/><text class="s" x="202" y="598.5">LA</text></g>
<g id="D-b9"><rect class="sb" x="220" y="593" width="12" height="8"/><text class="s" x="226" y="598.5">TSF</text></g>
<g id="D-b10"><rect class="sb" x="243" y="593" width="12" height="8"/><text class="s" x="249" y="598.5">SV</text></g>
<g id="D-b11"><rect class="sb" x="266" y="593" width="12" height="8"/><text class="s" x="272" y="598.5">MW</text></g>
<g id="D-b12"><rect class="sb" x="290" y="593" width="12" height="8"/><text class="s" x="296" y="598.5">JM</text></g>
<g id="D-b13"><rect class="sb" x="313" y="593" width="12" height="8"/><text class="s" x="319" y="598.5">RPT</text></g>
<g id="D-b14"><rect class="sb" x="336" y="593" width="12" height="8"/><text class="s" x="342" y="598.5">PB</text></g>
<g id="D-b15"><rect class="sb" x="360" y="593" width="12" height="8"/><text class="s" x="366" y="598.5">PH</text></g>
<g id="D-b16"><rect class="sb" x="383" y="593" width="12" height="8"/><text class="s" x="389" y="598.5">CL</text></g>
<g id="D-b17"><rect class="sb" x="406" y="593" width="12" height="8"/><text class="s" x="412" y="598.5">GM</text></g>
<g id="D-b18"><rect class="sb" x="429" y="593" width="12" height="8"/><text class="s" x="435" y="598.5">MC</text></g>
<!-- Panel E nodes -->
<g id="E-suki"><rect class="bx" x="623" y="363" width="78" height="24"/><text class="kt" style="font-size:15px" x="662" y="380.5">好き</text></g>
<g id="E-refresh"><rect class="bx" x="529" y="397" width="68" height="23"/><text class="bt" x="563" y="412">リフレッシュ</text></g>
<g id="E-calm"><rect class="bx" x="597" y="397" width="55" height="23"/><text class="bt" x="624.5" y="412">落ちつく</text></g>
<g id="E-ukiuki"><rect class="bx" x="652" y="397" width="66" height="23"/><text class="bt" x="685" y="412">うきうき</text></g>
<g id="E-awake"><rect class="bx" x="723" y="397" width="65" height="23"/><text class="bt" x="755.5" y="412">目が覚める</text></g>
<g id="E-fresh"><rect class="bx" x="457" y="448" width="56" height="24"/><text class="b7" x="485" y="462.6">フレッシュ</text></g>
<g id="E-cute"><rect class="bx" x="522" y="448" width="51" height="24"/><text class="b7" x="547.5" y="462.6">かわいい</text></g>
<g id="E-cool"><rect class="bx" x="584" y="448" width="55" height="24"/><text class="b7" x="611.5" y="462.6">かっこいい</text></g>
<g id="E-natural"><rect class="bx" x="652" y="448" width="36" height="24"/><text class="b7" x="667" y="462.6">自然</text></g>
<g id="E-elegant"><rect class="bx" x="696" y="448" width="51" height="24"/><text class="b7" x="721.5" y="462.6">エレガント</text></g>
<g id="E-dynamic"><rect class="bx" x="767" y="448" width="56" height="24"/><text class="b7" x="795" y="462.6">ダイナミック</text></g>
<g id="E-m0"><rect class="sb" x="479" y="491" width="38" height="12"/><text class="s" x="498" y="498.5">L2刺激</text></g>
<g id="E-m1"><rect class="sb" x="562" y="491" width="36" height="12"/><text class="s" x="580" y="498.5">L2ウッディ</text></g>
<g id="E-m2"><rect class="sb" x="644" y="491" width="35" height="12"/><text class="s" x="661.5" y="498.5">L2ジューシー</text></g>
<g id="E-m3"><rect class="sb" x="727" y="491" width="35" height="12"/><text class="s" x="744.5" y="498.5">L2マイルド</text></g>
<g id="E-m4"><rect class="sb" x="809" y="491" width="36" height="12"/><text class="s" x="827" y="498.5">L2渋み</text></g>
<g id="E-l0"><rect class="sb" x="457" y="533" width="36" height="10"/><text class="s" x="475" y="539.5">L1ミルキー</text></g>
<g id="E-l1"><rect class="sb" x="499" y="533" width="36" height="10"/><text class="s" x="517" y="539.5">L1スパイシー</text></g>
<g id="E-l2"><rect class="sb" x="543" y="533" width="36" height="10"/><text class="s" x="561" y="539.5">L1フローラル</text></g>
<g id="E-l3"><rect class="sb" x="585" y="533" width="36" height="10"/><text class="s" x="603" y="539.5">L1ミント</text></g>
<g id="E-l4"><rect class="sb" x="627" y="533" width="36" height="10"/><text class="s" x="645" y="539.5">L1アンバー系</text></g>
<g id="E-l5"><rect class="sb" x="670" y="533" width="36" height="10"/><text class="s" x="688" y="539.5">L1ガンツァー</text></g>
<g id="E-l6"><rect class="sb" x="713" y="533" width="36" height="10"/><text class="s" x="731" y="539.5">L1蜜</text></g>
<g id="E-l7"><rect class="sb" x="755" y="533" width="36" height="10"/><text class="s" x="773" y="539.5">L1ウッド系</text></g>
<g id="E-l8"><rect class="sb" x="797" y="533" width="36" height="10"/><text class="s" x="815" y="539.5">L1ティー</text></g>
<g id="E-l9"><rect class="sb" x="839" y="533" width="36" height="10"/><text class="s" x="857" y="539.5">L1グリーン</text></g>
<g id="E-b0"><rect class="sb" x="459" y="595" width="11" height="9"/><text class="s" x="464.5" y="601">LG</text></g>
<g id="E-b1"><rect class="sb" x="478" y="595" width="11" height="9"/><text class="s" x="483.5" y="601">CM</text></g>
<g id="E-b2"><rect class="sb" x="498" y="595" width="11" height="9"/><text class="s" x="503.5" y="601">GM</text></g>
<g id="E-b3"><rect class="sb" x="517" y="595" width="11" height="9"/><text class="s" x="522.5" y="601">BG</text></g>
<g id="E-b4"><rect class="sb" x="537" y="595" width="11" height="9"/><text class="s" x="542.5" y="601">T</text></g>
<g id="E-b5"><rect class="sb" x="556" y="595" width="11" height="9"/><text class="s" x="561.5" y="601">CW</text></g>
<g id="E-b6"><rect class="sb" x="575" y="595" width="11" height="9"/><text class="s" x="580.5" y="601">BM</text></g>
<g id="E-b7"><rect class="sb" x="595" y="595" width="11" height="9"/><text class="s" x="600.5" y="601">OR</text></g>
<g id="E-b8"><rect class="sb" x="614" y="595" width="11" height="9"/><text class="s" x="619.5" y="601">LA</text></g>
<g id="E-b9"><rect class="sb" x="634" y="595" width="11" height="9"/><text class="s" x="639.5" y="601">CM</text></g>
<g id="E-b10"><rect class="sb" x="653" y="595" width="11" height="9"/><text class="s" x="658.5" y="601">SV</text></g>
<g id="E-b11"><rect class="sb" x="672" y="595" width="11" height="9"/><text class="s" x="677.5" y="601">TSF</text></g>
<g id="E-b12"><rect class="sb" x="692" y="595" width="11" height="9"/><text class="s" x="697.5" y="601">JM</text></g>
<g id="E-b13"><rect class="sb" x="711" y="595" width="11" height="9"/><text class="s" x="716.5" y="601">MW</text></g>
<g id="E-b14"><rect class="sb" x="731" y="595" width="11" height="9"/><text class="s" x="736.5" y="601">PB</text></g>
<g id="E-b15"><rect class="sb" x="750" y="595" width="11" height="9"/><text class="s" x="755.5" y="601">RPT</text></g>
<g id="E-b16"><rect class="sb" x="769" y="595" width="11" height="9"/><text class="s" x="774.5" y="601">CJ</text></g>
<g id="E-b17"><rect class="sb" x="789" y="595" width="11" height="9"/><text class="s" x="794.5" y="601">PH</text></g>
<g id="E-b18"><rect class="sb" x="808" y="595" width="11" height="9"/><text class="s" x="813.5" y="601">WM</text></g>
<g id="E-b19"><rect class="sb" x="828" y="595" width="11" height="9"/><text class="s" x="833.5" y="601">GN</text></g>
<g id="E-b20"><rect class="sb" x="847" y="595" width="11" height="9"/><text class="s" x="852.5" y="601">AM</text></g>
<!-- Panel F nodes -->
<g id="F-suki"><rect class="bx" x="1045" y="365" width="80" height="25"/><text class="kt" x="1085" y="383.5">好き</text></g>
<g id="F-refresh"><rect class="bx" x="956" y="423" width="70" height="24"/><text class="bt" x="991" y="438.5">リフレッシュ</text></g>
<g id="F-calm"><rect class="bx" x="1051" y="423" width="68" height="24"/><text class="bt" x="1085" y="438.5">落ちつく</text></g>
<g id="F-uttori"><rect class="bx" x="1129" y="423" width="68" height="24"/><text class="bt" x="1163" y="438.5">うっとり</text></g>
<g id="F-elegant"><rect class="bx" x="896" y="467" width="67" height="26"/><text class="bt" x="929.5" y="483.5">エレガント</text></g>
<g id="F-dynamic"><rect class="bx" x="965" y="467" width="64" height="26"/><text class="bt" x="997" y="483.5">ダイナミック</text></g>
<g id="F-cute"><rect class="bx" x="1032" y="467" width="51" height="26"/><text class="bt" x="1057.5" y="483.5">かわいい</text></g>
<g id="F-fresh"><rect class="bx" x="1086" y="467" width="54" height="26"/><text class="bt" x="1113" y="483.5">フレッシュ</text></g>
<g id="F-cool"><rect class="bx" x="1143" y="467" width="55" height="26"/><text class="bt" x="1170.5" y="483.5">かっこいい</text></g>
<g id="F-natural"><rect class="bx" x="1213" y="467" width="35" height="26"/><text class="bt" x="1230.5" y="483.5">自然</text></g>
<g id="F-m0"><rect class="sb" x="929" y="508" width="31" height="13"/><text class="s" x="944.5" y="516">L2刺激</text></g>
<g id="F-m1"><rect class="sb" x="1002" y="508" width="30" height="13"/><text class="s" x="1017" y="516">L2ウッディ</text></g>
<g id="F-m2"><rect class="sb" x="1073" y="508" width="31" height="13"/><text class="s" x="1088.5" y="516">L2渋み</text></g>
<g id="F-m3"><rect class="sb" x="1145" y="508" width="31" height="13"/><text class="s" x="1160.5" y="516">L2マイルド</text></g>
<g id="F-m4"><rect class="sb" x="1217" y="508" width="31" height="13"/><text class="s" x="1232.5" y="516">L2ジューシー</text></g>
<g id="F-l0"><rect class="sb" x="880" y="548" width="31" height="13"/><text class="s" x="895.5" y="556">L1ティー</text></g>
<g id="F-l1"><rect class="sb" x="922" y="548" width="31" height="13"/><text class="s" x="937.5" y="556">L1蜜</text></g>
<g id="F-l2"><rect class="sb" x="964" y="548" width="31" height="13"/><text class="s" x="979.5" y="556">L1ミント</text></g>
<g id="F-l3"><rect class="sb" x="1006" y="548" width="31" height="13"/><text class="s" x="1021.5" y="556">L1ミルキー</text></g>
<g id="F-l4"><rect class="sb" x="1048" y="548" width="31" height="13"/><text class="s" x="1063.5" y="556">L1フローラル</text></g>
<g id="F-l5"><rect class="sb" x="1090" y="548" width="31" height="13"/><text class="s" x="1105.5" y="556">L1ウッド系</text></g>
<g id="F-l6"><rect class="sb" x="1132" y="548" width="31" height="13"/><text class="s" x="1147.5" y="556">L1スパイシー</text></g>
<g id="F-l7"><rect class="sb" x="1173" y="548" width="31" height="13"/><text class="s" x="1188.5" y="556">L1グリーン</text></g>
<g id="F-l8"><rect class="sb" x="1215" y="548" width="31" height="13"/><text class="s" x="1230.5" y="556">L1フルーティー</text></g>
<g id="F-l9"><rect class="sb" x="1257" y="548" width="31" height="13"/><text class="s" x="1272.5" y="556">L1ガンツァー</text></g>
<g id="F-b0"><rect class="sb" x="892" y="590" width="10" height="8"/><text class="s" x="897" y="595.5">LG</text></g>
<g id="F-b1"><rect class="sb" x="911" y="590" width="10" height="8"/><text class="s" x="916" y="595.5">CS</text></g>
<g id="F-b2"><rect class="sb" x="931" y="590" width="10" height="8"/><text class="s" x="936" y="595.5">LGF</text></g>
<g id="F-b3"><rect class="sb" x="950" y="590" width="10" height="8"/><text class="s" x="955" y="595.5">CPT</text></g>
<g id="F-b4"><rect class="sb" x="969" y="590" width="10" height="8"/><text class="s" x="974" y="595.5">TT</text></g>
<g id="F-b5"><rect class="sb" x="989" y="590" width="10" height="8"/><text class="s" x="994" y="595.5">CM</text></g>
<g id="F-b6"><rect class="sb" x="1008" y="590" width="10" height="8"/><text class="s" x="1013" y="595.5">BS</text></g>
<g id="F-b7"><rect class="sb" x="1027" y="590" width="10" height="8"/><text class="s" x="1032" y="595.5">GR</text></g>
<g id="F-b8"><rect class="sb" x="1046" y="590" width="10" height="8"/><text class="s" x="1051" y="595.5">LA</text></g>
<g id="F-b9"><rect class="sb" x="1066" y="590" width="10" height="8"/><text class="s" x="1071" y="595.5">CSF</text></g>
<g id="F-b10"><rect class="sb" x="1085" y="590" width="10" height="8"/><text class="s" x="1090" y="595.5">BV</text></g>
<g id="F-b11"><rect class="sb" x="1104" y="590" width="10" height="8"/><text class="s" x="1109" y="595.5">TSG</text></g>
<g id="F-b12"><rect class="sb" x="1124" y="590" width="10" height="8"/><text class="s" x="1129" y="595.5">MW</text></g>
<g id="F-b13"><rect class="sb" x="1143" y="590" width="10" height="8"/><text class="s" x="1148" y="595.5">BG</text></g>
<g id="F-b14"><rect class="sb" x="1162" y="590" width="10" height="8"/><text class="s" x="1167" y="595.5">TSF</text></g>
<g id="F-b15"><rect class="sb" x="1182" y="590" width="10" height="8"/><text class="s" x="1187" y="595.5">RPT</text></g>
<g id="F-b16"><rect class="sb" x="1201" y="590" width="10" height="8"/><text class="s" x="1206" y="595.5">WPT</text></g>
<g id="F-b17"><rect class="sb" x="1220" y="590" width="10" height="8"/><text class="s" x="1225" y="595.5">CJ</text></g>
<g id="F-b18"><rect class="sb" x="1239" y="590" width="10" height="8"/><text class="s" x="1244" y="595.5">SM</text></g>
<g id="F-b19"><rect class="sb" x="1259" y="590" width="10" height="8"/><text class="s" x="1264" y="595.5">MO</text></g>
<g id="F-b20"><rect class="sb" x="1278" y="590" width="10" height="8"/><text class="s" x="1283" y="595.5">PH</text></g>
</svg>
